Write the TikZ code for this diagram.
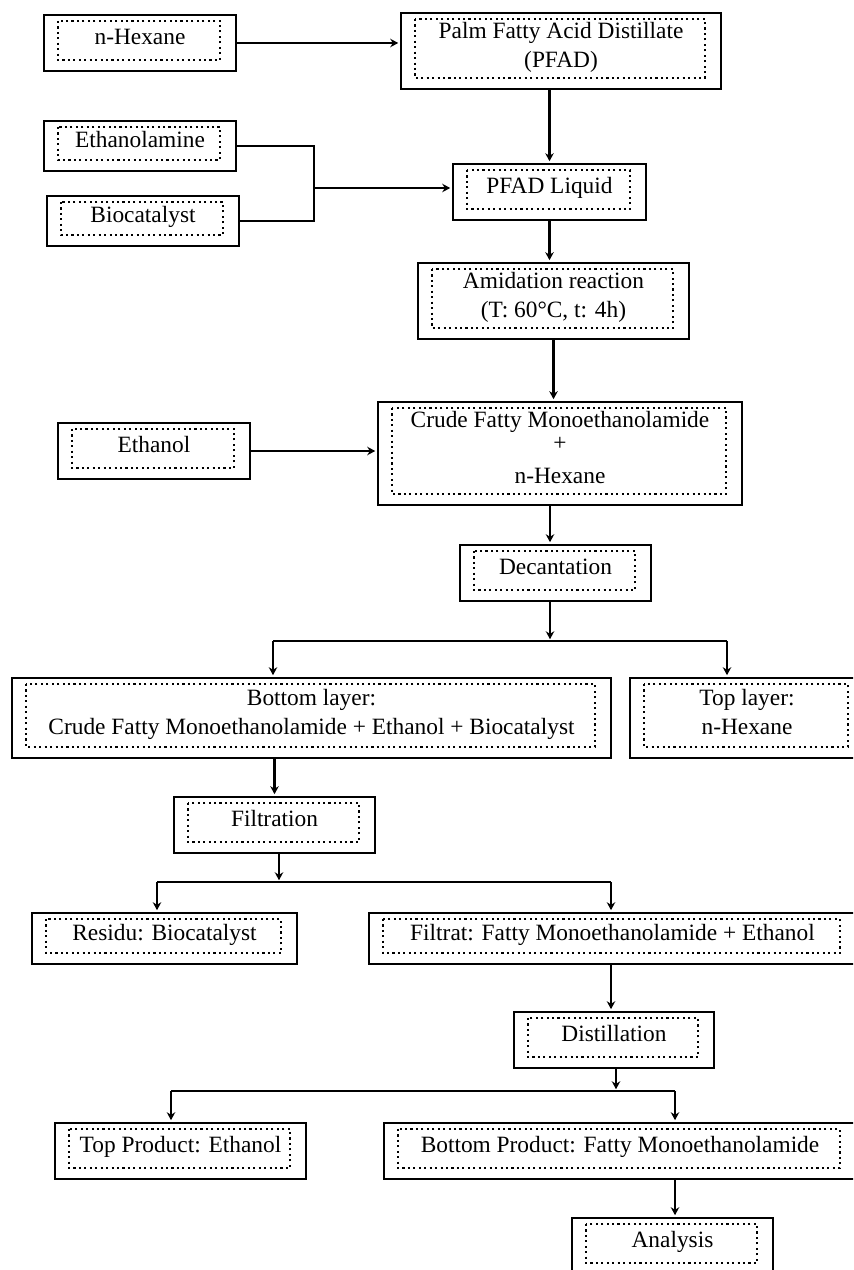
\documentclass[tikz,border=0pt]{standalone}
\usepackage{fontspec}
\setmainfont{Liberation Serif}
\usetikzlibrary{arrows.meta}

\begin{document}
\begin{tikzpicture}[
  x=0.02cm, y=-0.02cm,
  >={Stealth[length=1.6mm, width=1.7mm]},
  line/.style={line width=1.15pt},
  arr/.style={->, line width=1.15pt, shorten >=1pt},
  box/.style={
    draw, line width=1.2pt, align=center, inner sep=0pt, text depth=7pt,
    font=\fontsize{13.3}{16.5}\selectfont
  },
  dotbox/.style={line width=1.2pt, dash pattern=on 1.2pt off 1.9pt}
]
\useasboundingbox (0,0) rectangle (853,1270);
\clip (0,0) rectangle (853,1270);

% --- Feed and mixing ---
\node[box, minimum width=3.84cm, minimum height=1.12cm] (hex) at (140,43) {n-Hexane};
\node[box, minimum width=6.4cm, minimum height=1.52cm] (pfad) at (561,51) {Palm Fatty Acid Distillate\\(PFAD)};
\node[box, minimum width=3.84cm, minimum height=1cm] (ethA) at (140,146) {Ethanolamine};
\node[box, minimum width=3.84cm, minimum height=1cm] (bio) at (143,221) {Biocatalyst};
\node[box, minimum width=3.86cm, minimum height=1.12cm] (liq) at (549.5,192) {PFAD Liquid};
\node[box, minimum width=5.42cm, minimum height=1.52cm] (amid) at (553.5,301) {Amidation reaction\\(T: 60°C, t: 4h)};
\node[box, minimum width=7.28cm, minimum height=2.06cm] (crude) at (560,453.5) {Crude Fatty Monoethanolamide\\[-3.5pt]+\\[2pt]n-Hexane};
\node[box, minimum width=3.84cm, minimum height=1.12cm] (eth) at (154,451) {Ethanol};
\node[box, minimum width=3.82cm, minimum height=1.12cm] (dec) at (555.5,573) {Decantation};

% --- Separation ---
\node[box, minimum width=11.98cm, minimum height=1.6cm] (botL) at (311.5,718) {Bottom layer:\\Crude Fatty Monoethanolamide + Ethanol + Biocatalyst};
\node[box, minimum width=4.68cm, minimum height=1.6cm] (topL) at (747,718) {Top layer:\\n-Hexane};
\node[box, minimum width=4.02cm, minimum height=1.12cm] (filt) at (274.5,825) {Filtration};
\node[box, minimum width=5.3cm, minimum height=1.02cm] (res) at (164.5,938.5) {Residu: Biocatalyst};
\node[box, minimum width=9.74cm, minimum height=1.02cm] (filtr) at (612.5,938.5) {Filtrat: Fatty Monoethanolamide + Ethanol};
\node[box, minimum width=4cm, minimum height=1.12cm] (dist) at (614,1040) {Distillation};
\node[box, minimum width=5.02cm, minimum height=1.12cm] (topP) at (180.5,1151) {Top Product: Ethanol};
\node[box, minimum width=9.44cm, minimum height=1.12cm] (botP) at (620,1151) {Bottom Product: Fatty Monoethanolamide};
\node[box, minimum width=4.02cm, minimum height=1.12cm] (ana) at (672.5,1246) {Analysis};

% --- Inner dotted frames ---
\foreach \n in {hex,pfad,ethA,bio,liq,amid,crude,eth,dec,botL,topL,filt,res,filtr,dist,topP,botP,ana}{
  \draw[dotbox] ([shift={(15,7)}]\n.north west) rectangle ([shift={(-17,-12)}]\n.south east);
}

% --- Feed connections ---
\coordinate (mix) at (314,188);
\draw[arr] (hex.east) -- (hex.east -| pfad.west);
\draw[line] (ethA.east) -| (mix) |- (bio.east);
\draw[arr] (mix) -- (mix -| liq.west);
\draw[arr] (pfad.south -| liq.north) -- (liq.north);
\draw[arr] (liq.south) -- (liq.south |- amid.north);
\draw[arr] (amid.south) -- (amid.south |- crude.north);
\draw[arr] (eth.east) -- (eth.east -| crude.west);

% --- Decantation split ---
\coordinate (s1) at (550,641);
\coordinate (s1L) at (273,641);
\coordinate (s1R) at (727,641);
\draw[arr] (crude.south -| s1) -- (dec.north -| s1);
\draw[arr] (dec.south -| s1) -- (s1);
\draw[line] (s1L) -- (s1R);
\draw[arr] (s1L) -- (s1L |- botL.north);
\draw[arr] (s1R) -- (s1R |- topL.north);

% --- Filtration split ---
\coordinate (s2) at (279,882);
\coordinate (s2L) at (157,882);
\coordinate (s2R) at (611,882);
\draw[arr] (botL.south -| filt.north) -- (filt.north);
\draw[arr] (filt.south -| s2) -- (s2);
\draw[line] (s2L) -- (s2R);
\draw[arr] (s2L) -- (s2L |- res.north);
\draw[arr] (s2R) -- (s2R |- filtr.north);
\draw[arr] (filtr.south -| s2R) -- (dist.north -| s2R);

% --- Distillation split ---
\coordinate (s3) at (616,1091);
\coordinate (s3L) at (171,1091);
\coordinate (s3R) at (675,1091);
\draw[arr] (dist.south -| s3) -- (s3);
\draw[line] (s3L) -- (s3R);
\draw[arr] (s3L) -- (s3L |- topP.north);
\draw[arr] (s3R) -- (s3R |- botP.north);
\draw[arr] (botP.south -| s3R) -- (ana.north -| s3R);

\end{tikzpicture}
\end{document}
